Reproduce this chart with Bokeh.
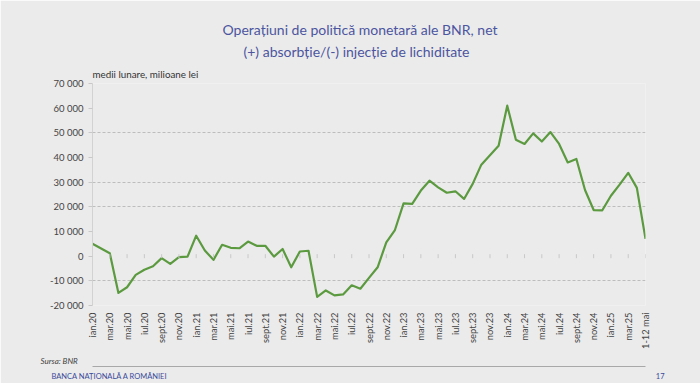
import math
from bokeh.plotting import figure
from bokeh.models import Range1d, FixedTicker, Title, LinearAxis
from bokeh.embed import file_html
from bokeh.resources import INLINE

# ---------------- data ----------------
values = [5000, 3100, 1200, -14900, -12600, -7600, -5500, -4100, -800, -3100,
          -400, -200, 8300, 2300, -1500, 4600, 3400, 3200, 5900, 4200,
          4200, -200, 2900, -4500, 1900, 2200, -16500, -13900, -15900, -15500,
          -11800, -13200, -8800, -4500, 5600, 10600, 21400, 21200, 26600, 30600,
          27900, 25700, 26300, 23200, 29300, 37100, 40900, 44800, 61000, 47200,
          45500, 49800, 46500, 50300, 45500, 38000, 39400, 26800, 18700, 18600,
          24500, 29000, 33800, 27700, 7000]
month_index = list(range(len(values)))

x_tick_labels = ["ian.20", "mar.20", "mai.20", "iul.20", "sept.20", "nov.20",
                 "ian.21", "mar.21", "mai.21", "iul.21", "sept.21", "nov.21",
                 "ian.22", "mar.22", "mai.22", "iul.22", "sept.22", "nov.22",
                 "ian.23", "mar.23", "mai.23", "iul.23", "sept.23", "nov.23",
                 "ian.24", "mar.24", "mai.24", "iul.24", "sept.24", "nov.24",
                 "ian.25", "mar.25", "1-12 mai"]
x_tick_positions = [2 * i for i in range(len(x_tick_labels))]

y_ticks = [-20000, -10000, 0, 10000, 20000, 30000, 40000, 50000, 60000, 70000]
y_tick_labels = ["-20 000", "-10 000", "0", "10 000", "20 000", "30 000",
                 "40 000", "50 000", "60 000", "70 000"]
grid_values = [-10000, 20000, 30000, 50000]

title_line1 = "Operațiuni de politică monetară ale BNR, net"
title_line2 = "(+) absorbție/(-) injecție de lichiditate"
unit_text = "medii lunare, milioane lei"
source_text = "Sursa: BNR"
bank_text = "BANCA NAȚIONALĂ A ROMÂNIEI"
page_no = "17"

# ---------------- styling ----------------
BG = "#ebebeb"
FONT = "Lato"
TITLE_COLOR = "#4b55a0"
BANK_COLOR = "#3a4a9a"
LINE_COLOR = "#5c9a40"
FOOTER_GAP = "\u2003" * 87   # fixed-width em spaces between bank name and page number

p = figure(width=700, height=383, output_backend="svg", toolbar_location=None,
           x_range=Range1d(0, 64), y_range=Range1d(-20000, 70000),
           min_border_left=92, min_border_right=55, min_border_top=83,
           min_border_bottom=78, background_fill_color=BG,
           border_fill_color=BG, outline_line_color=None)

p.line(month_index, values, line_color=LINE_COLOR, line_width=2.2,
       line_join="round")

# small category tick marks along zero
p.scatter(x_tick_positions, [0] * len(x_tick_positions), marker="dash",
          angle=math.pi / 2, size=4, line_color="#c8c8c8", line_width=1)

# y axis
yax = p.yaxis[0]
yax.ticker = FixedTicker(ticks=y_ticks)
yax.major_label_overrides = {v: s for v, s in zip(y_ticks, y_tick_labels)}
yax.axis_line_color = "#d2d2d2"
yax.major_tick_line_color = "#c8c8c8"
yax.major_tick_out = 4
yax.major_tick_in = 0
yax.minor_tick_line_color = None
yax.major_label_standoff = 5
yax.major_label_text_font = FONT
yax.major_label_text_font_size = "9.5px"
yax.major_label_text_color = "#444444"

# x axis
xax = p.xaxis[0]
xax.ticker = FixedTicker(ticks=x_tick_positions)
xax.major_label_overrides = {v: s for v, s in zip(x_tick_positions, x_tick_labels)}
xax.axis_line_color = None
xax.major_tick_line_color = None
xax.minor_tick_line_color = None
xax.major_tick_out = 0
xax.major_tick_in = 0
xax.major_label_orientation = math.pi / 2
xax.major_label_standoff = 7
xax.major_label_text_font = FONT
xax.major_label_text_font_size = "9.3px"
xax.major_label_text_color = "#444444"

p.xgrid.grid_line_color = None
p.ygrid.ticker = FixedTicker(ticks=grid_values)
p.ygrid.grid_line_color = "#bdbdbd"
p.ygrid.grid_line_dash = "3 2"
p.ygrid.grid_line_width = 1

# ---------------- titles (stacked above: first added sits nearest the frame) ----
p.add_layout(Title(text=unit_text, align="left", offset=0, standoff=8,
                   text_font=FONT, text_font_size="9.8px",
                   text_font_style="normal", text_color="#333333"), "above")
p.add_layout(Title(text=title_line2, align="left", offset=151, standoff=4,
                   text_font=FONT, text_font_size="14px",
                   text_font_style="normal", text_color=TITLE_COLOR), "above")
p.add_layout(Title(text=title_line1, align="left", offset=130, standoff=2,
                   text_font=FONT, text_font_size="14px",
                   text_font_style="normal", text_color=TITLE_COLOR), "above")

# ---------------- footer (stacked below the x axis) ----------------
p.add_layout(Title(text=source_text, align="left", offset=-52, standoff=2,
                   text_font=FONT, text_font_size="8px",
                   text_font_style="italic", text_color="#444444"), "below")
rule = LinearAxis(ticker=FixedTicker(ticks=[0]), bounds=(0, 64),
                  major_label_overrides={0: ""},
                  axis_line_color="#a8a8a8", axis_line_width=1,
                  major_tick_line_color=None, major_tick_out=3, major_tick_in=0,
                  major_label_standoff=0, minor_tick_line_color=None,
                  major_label_text_font_size="1px")
p.add_layout(rule, "below")
p.add_layout(Title(text=bank_text + FOOTER_GAP + page_no, align="left",
                   offset=-41, standoff=1,
                   text_font=FONT, text_font_size="7.5px",
                   text_font_style="normal", text_color=BANK_COLOR), "below")

open("out.html", "w").write(file_html(p, INLINE))
